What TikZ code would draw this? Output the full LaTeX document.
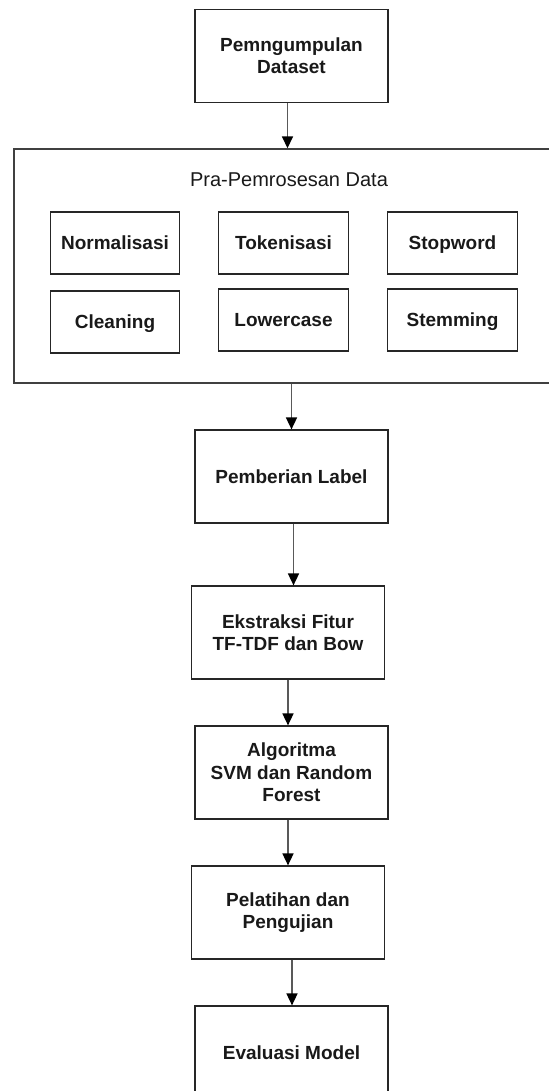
\documentclass[tikz,border=0pt]{standalone}
\usepackage{fontspec}
\setmainfont{Liberation Sans}
\usetikzlibrary{arrows.meta,positioning}

\begin{document}
\begin{tikzpicture}[
  x=0.5pt, y=-0.5pt,
  box/.style={draw=black!85, line width=0.6pt, align=center,
              font=\bfseries\fontsize{9.5}{11.2}\selectfont, text=black!90,
              minimum width=96.5pt, minimum height=46.5pt, inner sep=1pt},
  subbox/.style={box, minimum width=64.8pt, minimum height=31pt,
                 text height=1.6ex, text depth=0.45ex},
  frame/.style={draw=black!75, line width=0.7pt, minimum width=269.5pt, minimum height=117pt},
  arr/.style={-{Triangle[length=6pt, width=5.5pt, color=black]}, line width=0.8pt, black!65}
]
\useasboundingbox (0,0) rectangle (549,1091);
\node[box] (data) at (291.5,56) {Pemngumpulan\\Dataset};
\node[frame] (pre) at (283.5,266) {};
\node[font=\fontsize{10}{12}\selectfont, text=black!90] (pretitle) at (289,180) {Pra-Pemrosesan Data};
\node[subbox] (norm) at (115,243) {Normalisasi};
\node[subbox] (token) at (283.5,243) {Tokenisasi};
\node[subbox] (stop) at (452.5,243) {Stopword};
\node[subbox] (clean) at (115,322) {Cleaning};
\node[subbox] (lower) at (283.5,320) {Lowercase};
\node[subbox] (stem) at (452.5,320) {Stemming};
\node[box] (label) at (291.5,476.5) {Pemberian Label};
\node[box] (fitur) at (288,632.5) {Ekstraksi Fitur\\TF-TDF dan Bow};
\node[box] (algo) at (291.5,772.5) {Algoritma\\SVM dan Random\\Forest};
\node[box] (latih) at (288,912.5) {Pelatihan dan\\Pengujian};
\node[box] (eval) at (291.5,1052.5) {Evaluasi Model};
\draw[arr] ([xshift=-2pt]data.south) -- ([xshift=-2pt]data.south |- pre.north);
\draw[arr] (label.north |- pre.south) -- (label.north);
\draw[arr] ([xshift=1pt]label.south) -- ([xshift=1pt]label.south |- fitur.north);
\draw[arr] (fitur.south) -- (fitur.south |- algo.north);
\draw[arr] (algo.south -| fitur.south) -- (latih.north);
\draw[arr] ([xshift=2pt]latih.south) -- ([xshift=2pt]latih.south |- eval.north);
\end{tikzpicture}
\end{document}
